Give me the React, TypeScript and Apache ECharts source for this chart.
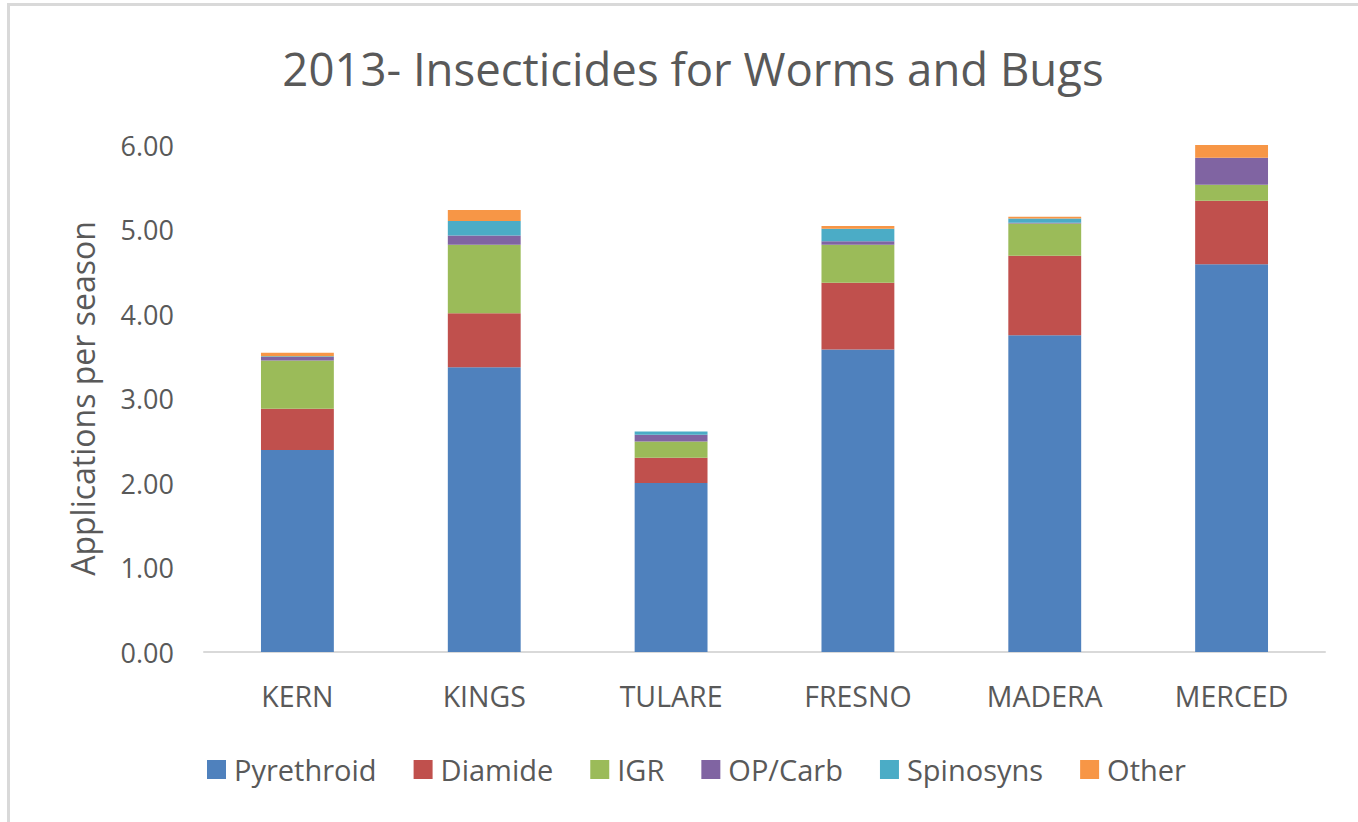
import React, { useEffect, useRef } from "react";
import * as echarts from "echarts";

const categories = ["KERN", "KINGS", "TULARE", "FRESNO", "MADERA", "MERCED"];
const seriesNames = ["Pyrethroid", "Diamide", "IGR", "OP/Carb", "Spinosyns", "Other"];
const pyrethroid = [2.39, 3.37, 2.0, 3.58, 3.75, 4.59];
const diamide = [0.49, 0.64, 0.3, 0.79, 0.94, 0.75];
const igr = [0.57, 0.81, 0.19, 0.45, 0.38, 0.19];
const opCarb = [0.04, 0.11, 0.08, 0.04, 0.01, 0.32];
const spinosyns = [0.01, 0.17, 0.04, 0.15, 0.05, 0.0];
const other = [0.04, 0.13, 0.0, 0.03, 0.02, 0.17];
const yTicks = [0, 1, 2, 3, 4, 5, 6];

const colors = ["#4F81BD", "#C0504D", "#9BBB59", "#8064A2", "#4BACC6", "#F79646"];
const FONT = "'Open Sans', 'Noto Sans', sans-serif";
const TEXT = "#595959";

export default function App() {
  const ref = useRef<HTMLDivElement>(null);
  useEffect(() => {
    if (!ref.current) return;
    const chart = echarts.init(ref.current, null, { renderer: "svg" });
    const data = [pyrethroid, diamide, igr, opCarb, spinosyns, other];
    chart.setOption({
      animation: false,
      backgroundColor: "#ffffff",
      color: colors,
      textStyle: { fontFamily: FONT, color: TEXT },
      title: {
        text: "2013- Insecticides for Worms and Bugs",
        left: 688,
        top: 40,
        textAlign: "center",
        textStyle: { fontFamily: FONT, fontSize: 45.5, fontWeight: "normal", color: TEXT },
      },
      graphic: [
        {
          type: "rect",
          shape: { x: 8.5, y: 4.5, width: 1400, height: 900 },
          style: { fill: "none", stroke: "#d9d9d9", lineWidth: 3 },
          silent: true,
        },
      ],
      legend: {
        data: seriesNames,
        bottom: 38,
        left: 207,
        padding: 0,
        itemWidth: 19,
        itemHeight: 19,
        itemGap: 37,
        icon: "rect",
        textStyle: { fontFamily: FONT, fontSize: 29, color: TEXT, padding: [0, 0, 0, 3] },
      },
      grid: { left: 204, right: 33, top: 145, bottom: 170, containLabel: false },
      xAxis: {
        type: "category",
        data: categories,
        axisLine: { lineStyle: { color: "#d9d9d9", width: 2 } },
        axisTick: { show: false },
        axisLabel: { fontFamily: FONT, fontSize: 28.5, color: TEXT, margin: 29 },
      },
      yAxis: {
        type: "value",
        min: yTicks[0],
        max: yTicks[yTicks.length - 1],
        interval: 1,
        name: "Applications per season",
        nameLocation: "middle",
        nameGap: 106,
        nameTextStyle: { fontFamily: FONT, fontSize: 32, color: TEXT },
        axisLine: { show: false },
        axisTick: { show: false },
        splitLine: { show: false },
        axisLabel: {
          fontFamily: FONT,
          fontSize: 27,
          color: TEXT,
          margin: 30,
          formatter: (v: number) => v.toFixed(2),
        },
      },
      series: seriesNames.map((name, i) => ({
        name,
        type: "bar",
        stack: "total",
        barWidth: "39%",
        data: data[i],
        itemStyle: { color: colors[i] },
      })),
    });
    return () => chart.dispose();
  }, []);
  return (
    <div
      ref={ref}
      style={{ position: "fixed", left: 0, top: 0, width: 1358, height: 822 }}
    />
  );
}
